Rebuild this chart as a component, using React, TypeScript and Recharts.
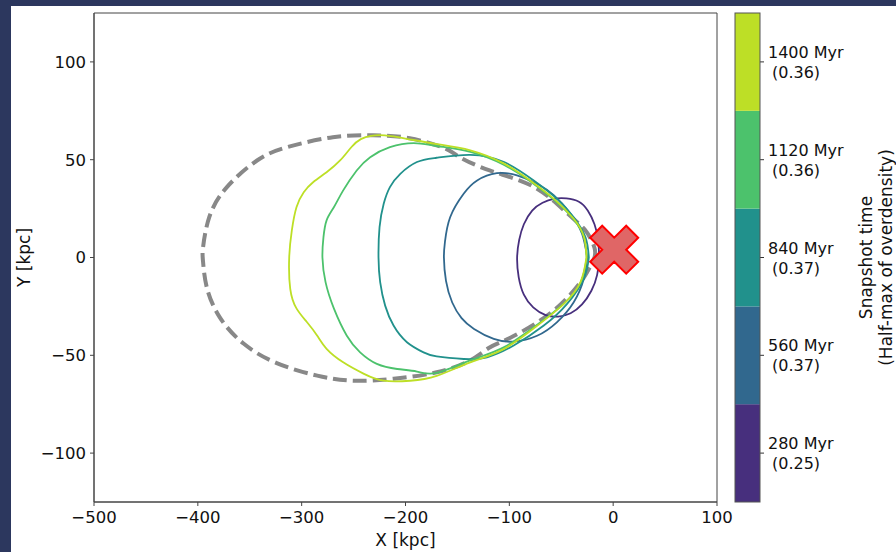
import {
  ComposedChart,
  Line,
  Scatter,
  XAxis,
  YAxis,
  ReferenceArea,
} from "recharts";

type Pt = [number, number];

const xTicks = [-500, -400, -300, -200, -100, 0, 100];
const yTicks = [-100, -50, 0, 50, 100];

const snapshotTimes = ["280 Myr", "560 Myr", "840 Myr", "1120 Myr", "1400 Myr"];
const halfMaxLevels = ["(0.25)", "(0.37)", "(0.37)", "(0.36)", "(0.36)"];
const viridis = ["#472f7d", "#31688e", "#21918c", "#4cc26c", "#bddf26"];

// contours, traced from the tip near x~-20 going counter-clockwise
const contour280: Pt[] = [
  [-13.5, 0], [-14.5, 9], [-18, 17], [-24.5, 24], [-33, 28.5], [-45, 30.2],
  [-57, 30], [-68, 28], [-78, 24], [-86, 17], [-90.5, 9], [-92.5, 0], [-91, -10],
  [-86, -19], [-77, -25.5], [-65, -29.5], [-53, -30.2], [-41, -28.5], [-30, -24],
  [-21, -17], [-15.5, -9], [-13.5, 0],
];
const contour560: Pt[] = [
  [-25, 0], [-29.9, 12.1], [-41, 22.4], [-57, 31.7], [-73.3, 37.7], [-92.6, 42],
  [-112, 43.1], [-131, 39.4], [-144, 32.6], [-157, 20.6], [-162, 8], [-163, 0],
  [-161, -12], [-155, -23], [-146, -31], [-134, -36.5], [-115, -41.6], [-95.8, -43],
  [-73.3, -40], [-54, -33], [-38, -22.9], [-28.3, -10.9], [-25, 0],
];
const contour840: Pt[] = [
  [-23.4, 0], [-26.7, 10.4], [-38, 20.6], [-54, 30], [-76.5, 39.4], [-105, 48.8],
  [-137.6, 52.5], [-170, 51], [-189, 48.8], [-205, 42.8], [-215, 36], [-221, 27.5],
  [-225, 15.5], [-226, 0], [-224.4, -12.6], [-219.6, -24.6], [-211.5, -34.8],
  [-198.6, -43.3], [-182.6, -48.5], [-170, -50.6], [-144, -51.9], [-121.5, -51],
  [-95.8, -45], [-66.8, -34.8], [-44.4, -23.7], [-28.3, -10.9], [-23.4, 0],
];
const contour1120: Pt[] = [
  [-25.5, 0], [-28, 10], [-38, 19.5], [-57, 29.5], [-80, 39], [-105, 47.3],
  [-137.6, 54], [-170, 57], [-192, 58.5], [-215, 56.4], [-234, 51.3], [-247, 44.5],
  [-260, 34.3], [-269, 25.7], [-276, 19], [-279, 10.4], [-280, 0], [-277, -12.6],
  [-269, -26], [-256.5, -40], [-243.7, -48.5], [-227.6, -54.4], [-208, -57],
  [-189, -58.3], [-170, -59], [-137, -52.5], [-105, -45.8], [-73, -34.3],
  [-47, -23.3], [-31, -12.4], [-25.5, 0],
];
const contour1400: Pt[] = [
  [-25.7, 0], [-28, 10.4], [-38, 19.8], [-57, 30], [-80, 39.4], [-105, 48],
  [-137.6, 54.8], [-170, 58], [-199, 60.7], [-220, 62.4], [-233, 62.2], [-243, 60.5],
  [-252, 56.5], [-263, 49.6], [-276, 43.6], [-289, 38.5], [-298, 33.4], [-305, 25.7],
  [-309.5, 13.8], [-312, 0], [-311, -16], [-305, -26], [-295, -33], [-285, -40],
  [-276, -46.7], [-260, -53.6], [-240, -59.5], [-221, -63], [-195.5, -63],
  [-170, -60.5], [-137.6, -53.6], [-105, -46.7], [-73, -34.8], [-47.5, -23.7],
  [-31.5, -12.6], [-25.7, 0],
];
const dashedEnvelope: Pt[] = [
  [-18, 0], [-18, 5], [-27, 14], [-44, 22.5], [-76, 36], [-119, 44.5], [-150, 52],
  [-163, 56], [-196, 61], [-231, 62.5], [-270, 61.5], [-314, 56.4], [-343, 49.6],
  [-372, 36], [-389, 20.6], [-395, 5], [-395, -2], [-391.5, -15], [-379, -30.5],
  [-356, -44], [-324, -54], [-285, -60.4], [-250, -63], [-211.5, -62], [-170, -58.7],
  [-138, -52.7], [-119, -46], [-99, -41], [-67, -31], [-44, -20.5], [-28, -10],
  [-18, 0],
];
const hostPosition: Pt[] = [[1, 4]];

const contours = [contour280, contour560, contour840, contour1120, contour1400];

const toRows = (pts: Pt[]) => pts.map(([x, y]) => ({ x, y }));
const fmt = (v: number) => String(v).replace("-", "\u2212");

const FONT = "'DejaVu Sans', sans-serif";
const W = 896;
const H = 552;
const PLOT = { left: 94, top: 13, right: 717, bottom: 502 };

// matplotlib's filled "X" marker outline
const xMarker = [
  [-1, -2], [0, -1], [1, -2], [2, -1], [1, 0], [2, 1],
  [1, 2], [0, 1], [-1, 2], [-2, 1], [-1, 0], [-2, -1],
];

function CrossShape(props: any) {
  const { cx, cy } = props;
  const s = 48 / 4;
  const d =
    xMarker.map(([a, b], i) => `${i ? "L" : "M"}${cx + a * s},${cy + b * s}`).join(" ") + " Z";
  return <path d={d} fill="#e06666" stroke="#ff0000" strokeWidth={2} strokeLinejoin="miter" />;
}

function Colorbar() {
  const x0 = 735;
  const w = 25;
  const segH = (PLOT.bottom - PLOT.top) / viridis.length;
  return (
    <svg width={W} height={H} style={{ position: "absolute", left: 0, top: 0, pointerEvents: "none" }}>
      {viridis.map((c, i) => {
        const y = PLOT.bottom - (i + 1) * segH;
        const mid = y + segH / 2;
        return (
          <g key={i}>
            <rect x={x0} y={y} width={w} height={segH} fill={c} />
            <line x1={x0 + w} x2={x0 + w + 4} y1={mid} y2={mid} stroke="#333" />
            <text x={x0 + w + 8} y={mid - 4} fontSize={16} fontFamily={FONT} fill="#111">
              {snapshotTimes[i]}
            </text>
            <text x={x0 + w + 12} y={mid + 16} fontSize={16} fontFamily={FONT} fill="#111">
              {halfMaxLevels[i]}
            </text>
          </g>
        );
      })}
      <rect x={x0} y={PLOT.top} width={w} height={PLOT.bottom - PLOT.top} fill="none" stroke="#555" />
      <g transform={`translate(872, ${(PLOT.top + PLOT.bottom) / 2}) rotate(-90)`}>
        <text textAnchor="middle" y={0} fontSize={17} fontFamily={FONT} fill="#111">
          Snapshot time
        </text>
        <text textAnchor="middle" y={20} fontSize={17} fontFamily={FONT} fill="#111">
          (Half-max of overdensity)
        </text>
      </g>
      <text x={(PLOT.left + PLOT.right) / 2} y={546} textAnchor="middle" fontSize={17} fontFamily={FONT} fill="#111">
        X [kpc]
      </text>
      <text
        transform={`translate(30, ${(PLOT.top + PLOT.bottom) / 2}) rotate(-90)`}
        textAnchor="middle"
        fontSize={17}
        fontFamily={FONT}
        fill="#111"
      >
        Y [kpc]
      </text>
    </svg>
  );
}

export default function App() {
  const tickStyle = { fontSize: 16.5, fontFamily: FONT, fill: "#111" };
  return (
    <div style={{ position: "fixed", left: 0, top: 0, width: W, height: H, background: "#2c375e" }}>
      <div style={{ position: "absolute", left: 11, top: 6, right: 0, bottom: 0, background: "#fff" }} />
      <div style={{ position: "absolute", left: 0, top: 0 }}>
        <ComposedChart
          width={W}
          height={H}
          margin={{ top: PLOT.top, right: W - PLOT.right, bottom: 10, left: PLOT.left - 60 }}
        >
          <XAxis
            type="number"
            dataKey="x"
            domain={[-500, 100]}
            ticks={xTicks}
            allowDataOverflow
            tickFormatter={fmt}
            tick={tickStyle}
            tickSize={4}
            tickMargin={5}
            height={H - PLOT.bottom - 10}
            stroke="#444"
          />
          <YAxis
            type="number"
            dataKey="y"
            domain={[-125, 125]}
            ticks={yTicks}
            allowDataOverflow
            tickFormatter={fmt}
            tick={tickStyle}
            tickSize={4}
            tickMargin={4}
            width={60}
            stroke="#444"
          />
          <ReferenceArea x1={-500} x2={100} y1={-125} y2={125} fill="none" stroke="#444" strokeWidth={1} />
          <Line
            data={toRows(dashedEnvelope)}
            dataKey="y"
            type="natural"
            stroke="#888888"
            strokeWidth={4}
            strokeDasharray="14 6"
            dot={false}
            isAnimationActive={false}
          />
          {contours.map((c, i) => (
            <Line
              key={i}
              data={toRows(c)}
              dataKey="y"
              type="natural"
              stroke={viridis[i]}
              strokeWidth={1.8}
              dot={false}
              isAnimationActive={false}
            />
          ))}
          <Scatter data={toRows(hostPosition)} dataKey="y" shape={CrossShape} isAnimationActive={false} />
        </ComposedChart>
      </div>
      <Colorbar />
    </div>
  );
}
